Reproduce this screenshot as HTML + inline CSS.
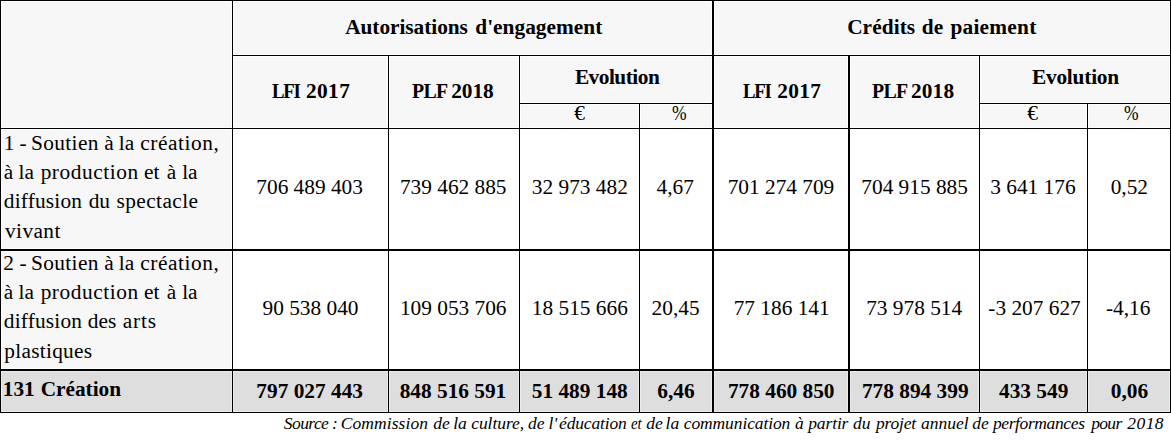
<!DOCTYPE html>
<html lang="fr">
<head>
<meta charset="utf-8">
<title>Tableau 131 Création</title>
<style>
html,body{margin:0;padding:0;background:#fff;}
body{width:1171px;height:440px;position:relative;overflow:hidden;font-family:"Liberation Serif",serif;color:#000;}
.bg,.l,.t{position:absolute;}
.l{background:#000;}
.h{position:absolute;border:1px solid #fff;}
.h.g{border-color:#ececec;}
.t{white-space:pre;line-height:1;font-size:21.33px;}
.b{font-weight:bold;}
.i{font-style:italic;}
</style>
</head>
<body>
<div class="bg" style="left:0px;top:0px;width:1171px;height:129px;background:#f7f7f7"></div>
<div class="bg" style="left:0px;top:129px;width:233px;height:240px;background:#f7f7f7"></div>
<div class="bg" style="left:0px;top:371px;width:1171px;height:42px;background:#dedede"></div>
<div class="h" style="left:1px;top:1px;width:229px;height:125px"></div>
<div class="h" style="left:233px;top:1px;width:477px;height:52px"></div>
<div class="h" style="left:714px;top:1px;width:454px;height:52px"></div>
<div class="h" style="left:233px;top:56px;width:153px;height:70px"></div>
<div class="h" style="left:389px;top:56px;width:128px;height:70px"></div>
<div class="h" style="left:520px;top:56px;width:190px;height:45px"></div>
<div class="h" style="left:520px;top:104px;width:117px;height:22px"></div>
<div class="h" style="left:640px;top:104px;width:70px;height:22px"></div>
<div class="h" style="left:714px;top:56px;width:132px;height:70px"></div>
<div class="h" style="left:850px;top:56px;width:127px;height:70px"></div>
<div class="h" style="left:980px;top:56px;width:188px;height:45px"></div>
<div class="h" style="left:980px;top:104px;width:105px;height:22px"></div>
<div class="h" style="left:1088px;top:104px;width:80px;height:22px"></div>
<div class="h" style="left:1px;top:129px;width:229px;height:118px"></div>
<div class="h" style="left:1px;top:251px;width:229px;height:116px"></div>
<div class="h g" style="left:1px;top:371px;width:229px;height:39px"></div>
<div class="h g" style="left:233px;top:371px;width:153px;height:39px"></div>
<div class="h g" style="left:389px;top:371px;width:128px;height:39px"></div>
<div class="h g" style="left:520px;top:371px;width:117px;height:39px"></div>
<div class="h g" style="left:640px;top:371px;width:70px;height:39px"></div>
<div class="h g" style="left:714px;top:371px;width:132px;height:39px"></div>
<div class="h g" style="left:850px;top:371px;width:127px;height:39px"></div>
<div class="h g" style="left:980px;top:371px;width:105px;height:39px"></div>
<div class="h g" style="left:1088px;top:371px;width:80px;height:39px"></div>
<div class="l" style="left:0px;top:0px;width:1px;height:413px"></div>
<div class="l" style="left:232px;top:0px;width:1px;height:413px"></div>
<div class="l" style="left:388px;top:55px;width:1px;height:358px"></div>
<div class="l" style="left:519px;top:55px;width:1px;height:358px"></div>
<div class="l" style="left:639px;top:103px;width:1px;height:310px"></div>
<div class="l" style="left:712px;top:0px;width:2px;height:413px"></div>
<div class="l" style="left:848px;top:55px;width:2px;height:358px"></div>
<div class="l" style="left:979px;top:55px;width:1px;height:358px"></div>
<div class="l" style="left:1087px;top:103px;width:1px;height:310px"></div>
<div class="l" style="left:1170px;top:0px;width:1px;height:413px"></div>
<div class="l" style="left:0px;top:0px;width:1171px;height:1px"></div>
<div class="l" style="left:232px;top:55px;width:939px;height:1px"></div>
<div class="l" style="left:519px;top:103px;width:194px;height:1px"></div>
<div class="l" style="left:979px;top:103px;width:192px;height:1px"></div>
<div class="l" style="left:0px;top:128px;width:1171px;height:1px"></div>
<div class="l" style="left:0px;top:249px;width:1171px;height:2px"></div>
<div class="l" style="left:0px;top:369px;width:1171px;height:2px"></div>
<div class="l" style="left:0px;top:412px;width:1171px;height:1px"></div>
<span class="t b" style="left:345.15px;top:17px;letter-spacing:-0.04px;">Autorisations</span>
<span class="t b" style="left:475.25px;top:17px;letter-spacing:0.03px;">d'engagement</span>
<span class="t b" style="left:847.15px;top:17px;letter-spacing:0.08px;">Crédits</span>
<span class="t b" style="left:921.85px;top:17px;">de</span>
<span class="t b" style="left:950.45px;top:17px;letter-spacing:0.24px;">paiement</span>
<span class="t b" style="left:271.92px;top:81px;letter-spacing:-1.36px;transform:scaleX(0.88);transform-origin:0 50%;">LFI</span>
<span class="t b" style="left:306.05px;top:81px;letter-spacing:0.37px;">2017</span>
<span class="t b" style="left:411.83px;top:81px;letter-spacing:-0.68px;transform:scaleX(0.93);transform-origin:0 50%;">PLF</span>
<span class="t b" style="left:451.2px;top:81px;letter-spacing:-0.03px;">2018</span>
<span class="t b" style="left:574.9px;top:67px;letter-spacing:-0.5px;">Evolution</span>
<span class="t" style="left:574.35px;top:103px;">€</span>
<span class="t" style="left:672.22px;top:103px;transform:scaleX(0.82);transform-origin:0 50%;">%</span>
<span class="t b" style="left:743.02px;top:81px;letter-spacing:-1.36px;transform:scaleX(0.88);transform-origin:0 50%;">LFI</span>
<span class="t b" style="left:777.15px;top:81px;letter-spacing:0.37px;">2017</span>
<span class="t b" style="left:872.13px;top:81px;letter-spacing:-0.68px;transform:scaleX(0.93);transform-origin:0 50%;">PLF</span>
<span class="t b" style="left:911px;top:81px;letter-spacing:0.13px;">2018</span>
<span class="t b" style="left:1031.9px;top:67px;letter-spacing:-0.2px;">Evolution</span>
<span class="t" style="left:1027.3px;top:103px;">€</span>
<span class="t" style="left:1124.32px;top:103px;transform:scaleX(0.82);transform-origin:0 50%;">%</span>
<span class="t" style="left:3.75px;top:133px;">1</span>
<span class="t" style="left:19.5px;top:133px;">-</span>
<span class="t" style="left:30.9px;top:133px;letter-spacing:0.4px;">Soutien</span>
<span class="t" style="left:104.15px;top:133px;">à</span>
<span class="t" style="left:118.8px;top:133px;">la</span>
<span class="t" style="left:140.35px;top:133px;letter-spacing:0.56px;">création,</span>
<span class="t" style="left:3.65px;top:162px;">à</span>
<span class="t" style="left:18.55px;top:162px;">la</span>
<span class="t" style="left:40.65px;top:162px;letter-spacing:0.57px;">production</span>
<span class="t" style="left:144.05px;top:162px;">et</span>
<span class="t" style="left:166.65px;top:162px;">à</span>
<span class="t" style="left:182.2px;top:162px;">la</span>
<span class="t" style="left:3.8px;top:191px;letter-spacing:0.2px;">diffusion</span>
<span class="t" style="left:88.7px;top:191px;">du</span>
<span class="t" style="left:116.5px;top:191px;letter-spacing:0.42px;">spectacle</span>
<span class="t" style="left:5px;top:221px;letter-spacing:0.4px;">vivant</span>
<span class="t" style="left:3.35px;top:253px;">2</span>
<span class="t" style="left:19.5px;top:253px;">-</span>
<span class="t" style="left:30.9px;top:253px;letter-spacing:0.4px;">Soutien</span>
<span class="t" style="left:104.15px;top:253px;">à</span>
<span class="t" style="left:118.8px;top:253px;">la</span>
<span class="t" style="left:140.35px;top:253px;letter-spacing:0.56px;">création,</span>
<span class="t" style="left:3.65px;top:282px;">à</span>
<span class="t" style="left:18.55px;top:282px;">la</span>
<span class="t" style="left:40.65px;top:282px;letter-spacing:0.57px;">production</span>
<span class="t" style="left:144.05px;top:282px;">et</span>
<span class="t" style="left:166.65px;top:282px;">à</span>
<span class="t" style="left:182.2px;top:282px;">la</span>
<span class="t" style="left:3.8px;top:311px;letter-spacing:0.2px;">diffusion</span>
<span class="t" style="left:87.85px;top:311px;letter-spacing:0.05px;">des</span>
<span class="t" style="left:122.65px;top:311px;letter-spacing:0.9px;">arts</span>
<span class="t" style="left:4.25px;top:341px;letter-spacing:0.28px;">plastiques</span>
<span class="t b" style="left:2.75px;top:379px;">131</span>
<span class="t b" style="left:40.65px;top:379px;letter-spacing:-0.01px;">Création</span>
<span class="t" style="left:256.3px;top:177px;">706 489 403</span>
<span class="t" style="left:399.9px;top:177px;">739 462 885</span>
<span class="t" style="left:531.85px;top:177px;">32 973 482</span>
<span class="t" style="left:656.5px;top:177px;">4,67</span>
<span class="t" style="left:727.65px;top:177px;">701 274 709</span>
<span class="t" style="left:861.3px;top:177px;">704 915 885</span>
<span class="t" style="left:990.25px;top:177px;">3 641 176</span>
<span class="t" style="left:1110.7px;top:177px;">0,52</span>
<span class="t" style="left:262.5px;top:298px;">90 538 040</span>
<span class="t" style="left:399.9px;top:298px;">109 053 706</span>
<span class="t" style="left:531.85px;top:298px;">18 515 666</span>
<span class="t" style="left:651.6px;top:298px;">20,45</span>
<span class="t" style="left:733.65px;top:298px;">77 186 141</span>
<span class="t" style="left:866.15px;top:298px;">73 978 514</span>
<span class="t" style="left:988.3px;top:298px;">-3 207 627</span>
<span class="t" style="left:1106px;top:298px;">-4,16</span>
<span class="t b" style="left:256.35px;top:381px;">797 027 443</span>
<span class="t b" style="left:399.65px;top:381px;">848 516 591</span>
<span class="t b" style="left:531.75px;top:381px;">51 489 148</span>
<span class="t b" style="left:657.25px;top:381px;">6,46</span>
<span class="t b" style="left:727.9px;top:381px;">778 460 850</span>
<span class="t b" style="left:861.95px;top:381px;">778 894 399</span>
<span class="t b" style="left:999px;top:381px;">433 549</span>
<span class="t b" style="left:1110.85px;top:381px;">0,06</span>
<span class="t i" style="left:283.85px;top:415px;font-size:17.5px;letter-spacing:-0.58px;">Source</span>
<span class="t i" style="left:331.95px;top:415px;font-size:17.5px;">:</span>
<span class="t i" style="left:340.65px;top:415px;font-size:17.5px;letter-spacing:0.1px;">Commission</span>
<span class="t i" style="left:433.2px;top:415px;font-size:17.5px;">de</span>
<span class="t i" style="left:453.2px;top:415px;font-size:17.5px;">la</span>
<span class="t i" style="left:471.2px;top:415px;font-size:17.5px;letter-spacing:-0.06px;">culture,</span>
<span class="t i" style="left:528px;top:415px;font-size:17.5px;">de</span>
<span class="t i" style="left:548.6px;top:415px;font-size:17.5px;">l'</span>
<span class="t i" style="left:559.05px;top:415px;font-size:17.5px;letter-spacing:-0.16px;">éducation</span>
<span class="t i" style="left:630.93px;top:415px;font-size:17.5px;transform:scaleX(0.85);transform-origin:0 50%;">et</span>
<span class="t i" style="left:646.2px;top:415px;font-size:17.5px;">de</span>
<span class="t i" style="left:665.55px;top:415px;font-size:17.5px;">la</span>
<span class="t i" style="left:683.75px;top:415px;font-size:17.5px;letter-spacing:-0.11px;">communication</span>
<span class="t i" style="left:795px;top:415px;font-size:17.5px;">à</span>
<span class="t i" style="left:808.2px;top:415px;font-size:17.5px;letter-spacing:-0.12px;">partir</span>
<span class="t i" style="left:853.1px;top:415px;font-size:17.5px;">du</span>
<span class="t i" style="left:876.1px;top:415px;font-size:17.5px;letter-spacing:-0.22px;">projet</span>
<span class="t i" style="left:920.9px;top:415px;font-size:17.5px;">annuel</span>
<span class="t i" style="left:972.35px;top:415px;font-size:17.5px;">de</span>
<span class="t i" style="left:992.9px;top:415px;font-size:17.5px;letter-spacing:-0.38px;">performances</span>
<span class="t i" style="left:1091.2px;top:415px;font-size:17.5px;letter-spacing:-0.67px;">pour</span>
<span class="t i" style="left:1127.2px;top:415px;font-size:17.5px;letter-spacing:0.47px;">2018</span>
</body>
</html>
